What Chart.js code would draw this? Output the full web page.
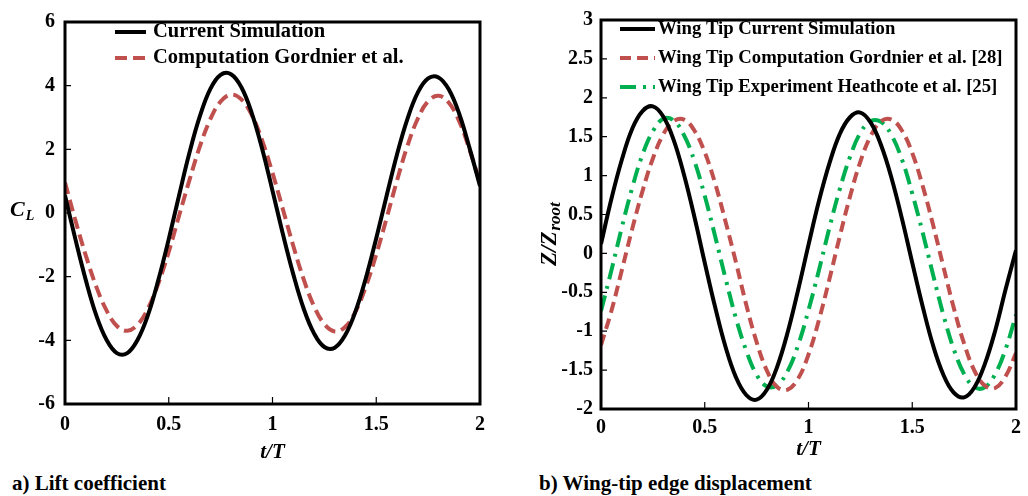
<!DOCTYPE html>
<html lang="en">
<head>
<meta charset="UTF-8">
<title>Lift coefficient and wing-tip edge displacement</title>
<script src="https://cdn.jsdelivr.net/npm/chart.js@4.4.1/dist/chart.umd.min.js"></script>
<style>
    body { margin: 0; background: #fff; width: 1028px; height: 496px; overflow: hidden; position: relative; font-family: "Liberation Serif", "Times New Roman", serif; }
    .box { position: absolute; top: 0; height: 470px; }
    #boxA { left: 0; width: 500px; }
    #boxB { left: 520px; width: 508px; }
    .caption { position: absolute; top: 470px; font-weight: bold; font-size: 21px; line-height: 26px; color: #000; }
</style>
</head>
<body>
<div class="box" id="boxA"><canvas id="chartA"></canvas></div>
<div class="box" id="boxB"><canvas id="chartB"></canvas></div>
<div class="caption" style="left:12px">a) Lift coefficient</div>
<div class="caption" style="left:539px">b) Wing-tip edge displacement</div>

<script>
    // t/T sample positions, shared by both panels
    const tValues = [0, 0.05, 0.1, 0.15, 0.2, 0.25, 0.3, 0.35, 0.4, 0.45,
        0.5, 0.55, 0.6, 0.65, 0.7, 0.75, 0.8, 0.85, 0.9, 0.95,
        1, 1.05, 1.1, 1.15, 1.2, 1.25, 1.3, 1.35, 1.4, 1.45,
        1.5, 1.55, 1.6, 1.65, 1.7, 1.75, 1.8, 1.85, 1.9, 1.95, 2]

    // a) lift coefficient
    const clCurrent = [0.55, -0.82, -2.10, -3.20, -3.98, -4.40, -4.40, -3.98, -3.20, -2.10,
        -0.82, 0.56, 1.90, 3.04, 3.89, 4.34, 4.36, 3.95, 3.14, 2.02,
        0.70, -0.66, -1.92, -3.00, -3.78, -4.21, -4.23, -3.84, -3.09, -2.04,
        -0.79, 0.54, 1.84, 2.95, 3.78, 4.23, 4.26, 3.88, 3.11, 2.03, 0.85]
    const clGordnier = [0.96, -0.23, -1.33, -2.30, -3.06, -3.55, -3.70, -3.51, -3.00, -2.21,
        -1.22, -0.08, 1.04, 2.09, 2.94, 3.50, 3.72, 3.57, 3.08, 2.28,
        1.26, 0.12, -1.03, -2.08, -2.93, -3.49, -3.72, -3.58, -3.10, -2.31,
        -1.30, -0.16, 1.02, 2.10, 2.96, 3.51, 3.68, 3.46, 2.88, 1.98, 0.95]

    // b) wing-tip edge displacement
    const zCurrent = [0.12, 0.70, 1.20, 1.60, 1.83, 1.89, 1.76, 1.46, 1.01, 0.47,
        -0.12, -0.69, -1.20, -1.59, -1.82, -1.88, -1.75, -1.45, -1.01, -0.47,
        0.11, 0.67, 1.15, 1.53, 1.75, 1.81, 1.68, 1.39, 0.97, 0.45,
        -0.12, -0.68, -1.18, -1.56, -1.79, -1.85, -1.72, -1.42, -0.99, -0.46, 0.04]
    const zGordnier = [-1.18, -0.74, -0.22, 0.31, 0.80, 1.22, 1.53, 1.70, 1.72, 1.58,
        1.30, 0.90, 0.41, -0.11, -0.66, -1.14, -1.51, -1.72, -1.75, -1.61,
        -1.30, -0.86, -0.34, 0.21, 0.73, 1.18, 1.51, 1.70, 1.72, 1.58,
        1.29, 0.87, 0.37, -0.17, -0.70, -1.16, -1.51, -1.70, -1.73, -1.58, -1.28]
    const zHeathcote = [-0.74, -0.22, 0.33, 0.84, 1.27, 1.57, 1.73, 1.71, 1.52, 1.19,
        0.74, 0.22, -0.32, -0.83, -1.25, -1.56, -1.71, -1.69, -1.51, -1.18,
        -0.73, -0.22, 0.32, 0.82, 1.24, 1.55, 1.70, 1.69, 1.52, 1.21,
        0.77, 0.27, -0.27, -0.79, -1.23, -1.55, -1.72, -1.72, -1.55, -1.23, -0.79]

    const xTicks = [0, 0.5, 1, 1.5, 2]
    const yTicksA = [-6, -4, -2, 0, 2, 4, 6]
    const yTicksB = [-2, -1.5, -1, -0.5, 0, 0.5, 1, 1.5, 2, 2.5, 3]

    const SERIF = '"Liberation Serif", "Times New Roman", serif'
    Chart.defaults.color = '#000'
    Chart.defaults.font.family = SERIF

    function points(ys) {
        return tValues.map((t, i) => ({x: t, y: ys[i]}))
    }

    // frame, inside tick marks, legend and y title
    const decorPlugin = {
        id: 'decor',
        afterDatasetsDraw(chart, args, opts) {
            const {ctx, chartArea: a, scales} = chart
            ctx.save()
            ctx.strokeStyle = '#000'
            ctx.lineWidth = 1.2
            ctx.beginPath()
            scales.x.ticks.forEach(t => {
                const px = scales.x.getPixelForValue(t.value)
                ctx.moveTo(px, a.bottom)
                ctx.lineTo(px, a.bottom - 7)
            })
            scales.y.ticks.forEach(t => {
                const py = scales.y.getPixelForValue(t.value)
                ctx.moveTo(a.left, py)
                ctx.lineTo(a.left + 6, py)
            })
            ctx.stroke()
            ctx.lineWidth = 3
            ctx.strokeRect(a.left, a.top, a.right - a.left, a.bottom - a.top)

            // legend
            const lg = opts.legend
            ctx.font = 'bold ' + lg.size + 'px ' + SERIF
            ctx.textBaseline = 'middle'
            ctx.textAlign = 'left'
            chart.data.datasets.forEach((ds, i) => {
                const y = lg.y + i * lg.gap
                ctx.beginPath()
                ctx.lineWidth = 4
                ctx.strokeStyle = ds.borderColor
                ctx.setLineDash(ds.borderDash || [])
                ctx.moveTo(lg.x, y)
                ctx.lineTo(lg.x + lg.len, y)
                ctx.stroke()
                ctx.setLineDash([])
                ctx.fillStyle = '#000'
                ctx.fillText(ds.label, lg.textX, y)
            })

            // y axis title with subscript
            const yt = opts.yTitle
            ctx.translate(yt.x, yt.y)
            ctx.rotate(yt.angle)
            ctx.textBaseline = 'alphabetic'
            ctx.font = 'italic bold ' + yt.size + 'px ' + SERIF
            ctx.fillText(yt.main, 0, 0)
            const w = ctx.measureText(yt.main).width
            ctx.font = 'italic bold ' + yt.subSize + 'px ' + SERIF
            ctx.fillText(yt.sub, w + 1, yt.drop)
            ctx.restore()
        }
    }

    const tickFont = {size: 20, weight: 'bold'}

    function xScale(height, pad, titlePad) {
        return {
            type: 'linear', min: 0, max: 2,
            afterBuildTicks: s => { s.ticks = xTicks.map(v => ({value: v})) },
            afterFit: s => { s.height = height },
            grid: {display: false, drawTicks: false},
            border: {display: false},
            ticks: {font: tickFont, padding: pad, maxRotation: 0, autoSkip: false, callback: v => String(v)},
            title: {display: true, text: 't/T', font: {size: 21, style: 'italic', weight: 'bold'}, padding: {top: 0, bottom: titlePad}},
        }
    }

    function yScale(ticks, width, pad) {
        return {
            type: 'linear', min: ticks[0], max: ticks[ticks.length - 1],
            afterBuildTicks: s => { s.ticks = ticks.map(v => ({value: v})) },
            afterFit: s => { s.width = width },
            grid: {display: false, drawTicks: false},
            border: {display: false},
            ticks: {font: tickFont, padding: pad, autoSkip: false, callback: v => String(v)},
        }
    }

    const lineBase = {borderWidth: 4, pointRadius: 0, tension: 0.4, fill: false, borderCapStyle: 'butt'}

    new Chart(document.getElementById('chartA'), {
        type: 'line',
        data: {
            datasets: [
                {...lineBase, label: 'Current Simulation', data: points(clCurrent), borderColor: '#000000'},
                {...lineBase, label: 'Computation Gordnier et al.', data: points(clGordnier), borderColor: '#C0504D', borderDash: [12, 6]},
            ],
        },
        options: {
            responsive: true,
            maintainAspectRatio: false,
            animation: false,
            layout: {padding: {top: 18, right: 20, left: 0, bottom: 0}},
            scales: {x: xScale(66, 9, 5), y: yScale(yTicksA, 65, 10)},
            plugins: {
                legend: {display: false},
                tooltip: {enabled: false},
                decor: {
                    legend: {x: 115, y: 32, gap: 26, len: 31, textX: 153, size: 20.5},
                    yTitle: {main: 'C', sub: 'L', x: 10, y: 216, angle: 0, size: 22, subSize: 14, drop: 4},
                },
            },
        },
        plugins: [decorPlugin],
    })

    new Chart(document.getElementById('chartB'), {
        type: 'line',
        data: {
            datasets: [
                {...lineBase, label: 'Wing Tip Current Simulation', data: points(zCurrent), borderColor: '#000000'},
                {...lineBase, label: 'Wing Tip Computation Gordnier et al. [28]', data: points(zGordnier), borderColor: '#C0504D', borderDash: [11, 6]},
                {...lineBase, label: 'Wing Tip Experiment Heathcote et al. [25]', data: points(zHeathcote), borderColor: '#00B050', borderDash: [16, 7, 3, 7]},
            ],
        },
        options: {
            responsive: true,
            maintainAspectRatio: false,
            animation: false,
            layout: {padding: {top: 16, right: 5, left: 0, bottom: 0}},
            scales: {x: xScale(61, 7, 8), y: yScale(yTicksB, 81, 8)},
            plugins: {
                legend: {display: false},
                tooltip: {enabled: false},
                decor: {
                    legend: {x: 100, y: 29, gap: 29, len: 35, textX: 138, size: 18.7},
                    yTitle: {main: 'Z/Z', sub: 'root', x: 36, y: 266, angle: -Math.PI / 2, size: 23, subSize: 17, drop: 4},
                },
            },
        },
        plugins: [decorPlugin],
    })
</script>
</body>
</html>
